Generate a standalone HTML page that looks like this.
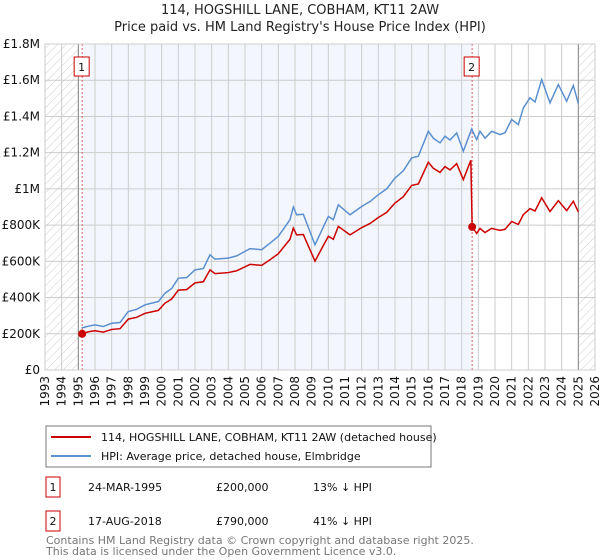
<!DOCTYPE html>
<html><head><meta charset="utf-8"><style>
body{margin:0;background:#fff;font-family:"Liberation Sans","DejaVu Sans",sans-serif;}
#wrap{position:relative;width:600px;height:560px;overflow:hidden}
</style></head><body>
<div id="wrap">
<svg id="chart" width="600" height="560" xmlns="http://www.w3.org/2000/svg" font-family="'DejaVu Sans','Liberation Sans',sans-serif">
<defs>
<pattern id="hatch" patternUnits="userSpaceOnUse" width="6" height="6" patternTransform="rotate(45)">
<line x1="0" y1="0" x2="0" y2="6" stroke="#ccc" stroke-width="1"/>
</pattern>
</defs>
<text x="300" y="14" text-anchor="middle" font-size="13" fill="#222">114, HOGSHILL LANE, COBHAM, KT11 2AW</text>
<text x="300" y="31" text-anchor="middle" font-size="13" fill="#222">Price paid vs. HM Land Registry's House Price Index (HPI)</text>
<g id="plot"></g>
<g>
<rect x="46" y="426" width="385" height="41" fill="#fff" stroke="#777"/>
<line x1="51" y1="437" x2="91" y2="437" stroke="#cc0000" stroke-width="2"/>
<text x="101" y="441" font-size="11" fill="#111">114, HOGSHILL LANE, COBHAM, KT11 2AW (detached house)</text>
<line x1="51" y1="456" x2="91" y2="456" stroke="#5b8fd0" stroke-width="2"/>
<text x="101" y="460" font-size="11" fill="#111">HPI: Average price, detached house, Elmbridge</text>
</g>
<g font-size="11" fill="#111">
<rect x="46" y="477" width="14" height="20" fill="#fff" stroke="#cc0000"/>
<text x="53" y="491" text-anchor="middle">1</text>
<text x="88" y="491">24-MAR-1995</text><text x="216" y="491">£200,000</text><text x="313" y="491">13% ↓ HPI</text>
<rect x="46" y="511" width="14" height="20" fill="#fff" stroke="#cc0000"/>
<text x="53" y="525" text-anchor="middle">2</text>
<text x="88" y="525">17-AUG-2018</text><text x="216" y="525">£790,000</text><text x="313" y="525">41% ↓ HPI</text>
</g>
<text x="46" y="544" font-size="11" fill="#777">Contains HM Land Registry data © Crown copyright and database right 2025.</text>
<text x="46" y="555" font-size="11" fill="#777">This data is licensed under the Open Government Licence v3.0.</text>
</svg>
</div>
<script>
const yearTicks=[1993,1994,1995,1996,1997,1998,1999,2000,2001,2002,2003,2004,2005,2006,2007,2008,2009,2010,2011,2012,2013,2014,2015,2016,2017,2018,2019,2020,2021,2022,2023,2024,2025,2026];
const valueTicks=[0,200000,400000,600000,800000,1000000,1200000,1400000,1600000,1800000];
const valueTickLabels=["£0","£200K","£400K","£600K","£800K","£1M","£1.2M","£1.4M","£1.6M","£1.8M"];
const hpiDates=[1995.2,1995.6,1996,1996.5,1997,1997.5,1998,1998.5,1999,1999.8,2000.2,2000.6,2001,2001.5,2002,2002.5,2002.9,2003.2,2004,2004.5,2005,2005.3,2006,2006.5,2007,2007.7,2007.9,2008.1,2008.5,2009.2,2009.6,2010,2010.3,2010.6,2011.3,2012,2012.5,2013,2013.5,2014,2014.5,2015,2015.4,2016,2016.3,2016.7,2017,2017.3,2017.7,2018.1,2018.6,2018.9,2019.1,2019.4,2019.8,2020.3,2020.6,2021,2021.4,2021.7,2022.1,2022.4,2022.8,2023.3,2023.8,2024.3,2024.7,2025];
const hpiValuesK=[232,242,249,240,258,262,323,335,360,378,424,450,507,510,553,560,636,612,618,630,655,670,664,700,738,830,900,857,860,691,770,848,830,912,857,903,930,968,1000,1060,1100,1171,1180,1318,1280,1254,1291,1270,1309,1208,1331,1272,1318,1280,1318,1300,1310,1383,1355,1447,1503,1480,1604,1475,1576,1484,1571,1471];
const propDates=[1995.23,1995.6,1996,1996.5,1997,1997.5,1998,1998.5,1999,1999.8,2000.2,2000.6,2001,2001.5,2002,2002.5,2002.9,2003.2,2004,2004.5,2005,2005.3,2006,2006.5,2007,2007.7,2007.9,2008.1,2008.5,2009.2,2009.6,2010,2010.3,2010.6,2011.3,2012,2012.5,2013,2013.5,2014,2014.5,2015,2015.4,2016,2016.3,2016.7,2017,2017.3,2017.7,2018.1,2018.55,2018.63,2018.9,2019.1,2019.4,2019.8,2020.3,2020.6,2021,2021.4,2021.7,2022.1,2022.4,2022.8,2023.3,2023.8,2024.3,2024.7,2025];
const propValuesK=[200,211,217,209,224,228,281,291,313,329,369,392,441,444,481,487,553,532,538,548,570,583,578,609,642,722,783,746,748,601,670,738,722,793,746,786,809,842,870,922,957,1019,1027,1147,1114,1091,1123,1105,1139,1051,1158,790,754,782,759,782,771,777,820,804,858,891,878,951,875,935,880,932,872];
const saleDates=[1995.23,2018.63];
const salePricesK=[200,790];
const saleLabels=["1","2"];

const X0=45,X1=595,Y0=370,Y1=44;
const xS=y=>X0+(y-1993)/(2026-1993)*(X1-X0);
const yS=v=>Y0-v/1800000*(Y0-Y1);
const NS="http://www.w3.org/2000/svg";
const plot=document.getElementById('plot');
function mk(t,a,p){const e=document.createElementNS(NS,t);for(const k in a)e.setAttribute(k,a[k]);(p||plot).appendChild(e);return e;}

const bg=mk('rect',{x:X0,y:Y1,width:X1-X0,height:Y0-Y1,fill:'#fff'});


const shade=mk('rect',{x:xS(saleDates[0]),y:Y1,width:xS(saleDates[1])-xS(saleDates[0]),height:Y0-Y1,fill:'#eef3fc',opacity:0.7});


const h1=mk('rect',{x:X0,y:Y1,width:xS(1995)-X0,height:Y0-Y1,fill:'url(#hatch)'});


const h2=mk('rect',{x:xS(2025),y:Y1,width:X1-xS(2025),height:Y0-Y1,fill:'url(#hatch)'});



yearTicks.forEach(y=>{
  const l=mk('line',{x1:xS(y),x2:xS(y),y1:Y1,y2:Y0,stroke:'#ccc','stroke-width':1});
  
  
  const t=mk('text',{x:0,y:0,'font-size':12,fill:'#111','text-anchor':'end',transform:`translate(${xS(y)+4},${Y0+6}) rotate(-90)`});
  t.textContent=y;
  
  
});
valueTicks.forEach((v,i)=>{
  const l=mk('line',{x1:X0,x2:X1,y1:yS(v),y2:yS(v),stroke:'#ccc','stroke-width':1});
  
  
  const t=mk('text',{x:40,y:yS(v)+4,'font-size':12,fill:'#111','text-anchor':'end'});
  t.textContent=valueTickLabels[i];
  
  
});
const b1=mk('line',{x1:xS(1995),x2:xS(1995),y1:Y1,y2:Y0,stroke:'#888','stroke-width':1});


const b2=mk('line',{x1:xS(2025),x2:xS(2025),y1:Y1,y2:Y0,stroke:'#888','stroke-width':1});



saleDates.forEach((d,i)=>{
  const l=mk('line',{x1:xS(d),x2:xS(d),y1:Y1,y2:Y0,stroke:'#e06060','stroke-width':1,'stroke-dasharray':'2,2'});
  
  
});

const hp=mk('polyline',{points:hpiDates.map((d,i)=>xS(d)+','+yS(hpiValuesK[i]*1000)).join(' '),fill:'none',stroke:'#5b8fd0','stroke-width':1.5});


const pp=mk('polyline',{points:propDates.map((d,i)=>xS(d)+','+yS(propValuesK[i]*1000)).join(' '),fill:'none',stroke:'#cc0000','stroke-width':1.5});



saleDates.forEach((d,i)=>{
  const c=mk('circle',{cx:xS(d),cy:yS(salePricesK[i]*1000),r:4,fill:'#cc0000'});
  
  
  const r=mk('rect',{x:xS(d)-8,y:57,width:15,height:19,fill:'#fff',stroke:'#cc0000'});
  
  
  const t=mk('text',{x:xS(d)-0.5,y:71,'font-size':11,fill:'#111','text-anchor':'middle'});
  t.textContent=saleLabels[i];
  
  
});
const frame=mk('rect',{x:X0,y:Y1,width:X1-X0,height:Y0-Y1,fill:'none',stroke:'#ccc'});


</script>
</body></html>
